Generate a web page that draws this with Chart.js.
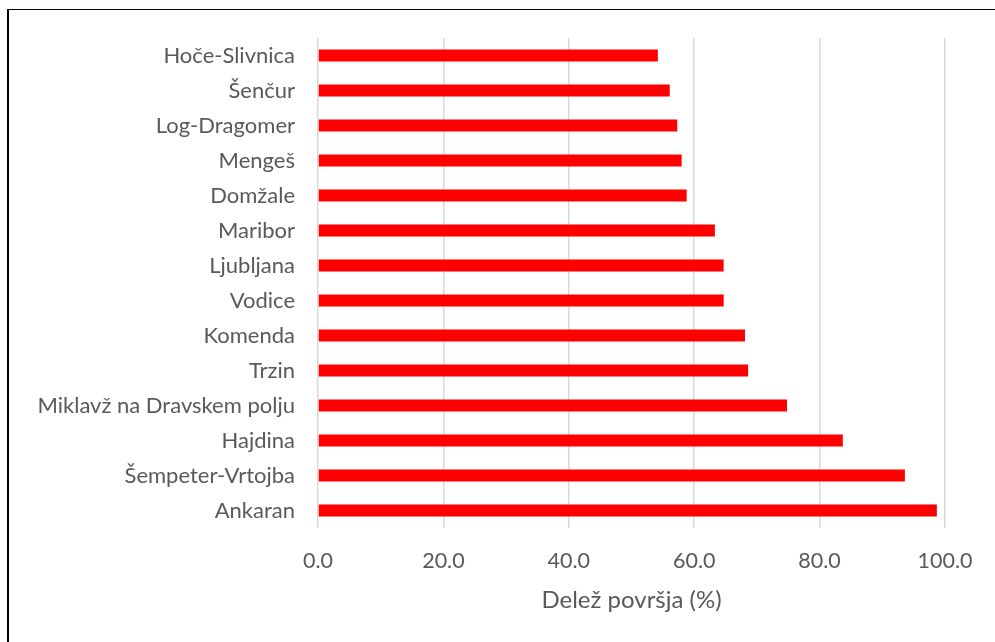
<!DOCTYPE html>
<html>
<head>
<meta charset="utf-8">
<script src="https://cdn.jsdelivr.net/npm/chart.js@4.4.1/dist/chart.umd.min.js"></script>
<style>
  html, body { margin: 0; padding: 0; background: #fff; }
  #wrap { position: relative; width: 995px; height: 642px; overflow: hidden; }
  #frame { position: absolute; left: 7px; top: 9px; width: 1200px; height: 900px;
           border-left: 2px solid #000; border-top: 1px solid #000; box-sizing: border-box; }
  canvas { position: absolute; left: 0; top: 0; }
</style>
</head>
<body>
<div id="wrap">
  <canvas id="c" width="995" height="642"></canvas>
  <div id="frame"></div>
</div>
<script>
const categories = [
  "Hoče-Slivnica", "Šenčur", "Log-Dragomer", "Mengeš", "Domžale", "Maribor",
  "Ljubljana", "Vodice", "Komenda", "Trzin", "Miklavž na Dravskem polju",
  "Hajdina", "Šempeter-Vrtojba", "Ankaran"
];
const shareValues = [54.2, 56.1, 57.3, 58.0, 58.8, 63.3, 64.7, 64.7, 68.1, 68.6, 74.8, 83.7, 93.6, 98.7];
const xAxisTitle = "Delež površja (%)";
const xMin = 0, xMax = 100, xStep = 20;

const FONT = "Lato, 'Open Sans', sans-serif";
const TEXT = "#595959";

new Chart(document.getElementById("c"), {
  type: "bar",
  data: {
    labels: categories,
    datasets: [{
      data: shareValues,
      backgroundColor: "#ff0000",
      borderWidth: 0,
      barPercentage: 0.343,
      categoryPercentage: 1.0
    }]
  },
  options: {
    indexAxis: "y",
    responsive: false,
    animation: false,
    events: [],
    layout: { padding: { top: 38, right: 50, left: 0, bottom: 0 } },
    plugins: { legend: { display: false }, tooltip: { enabled: false } },
    scales: {
      x: {
        min: xMin, max: xMax,
        ticks: {
          stepSize: xStep,
          padding: 20,
          color: TEXT,
          font: { family: FONT, size: 21.5 },
          callback: v => Number(v).toFixed(1)
        },
        grid: { color: "#d9d9d9", lineWidth: 1.5, drawTicks: false },
        border: { display: false },
        title: {
          display: true, text: xAxisTitle, color: TEXT,
          font: { family: FONT, size: 24 },
          padding: { top: 0, bottom: 27 }
        },
        afterFit: s => { s.height = 114; }
      },
      y: {
        ticks: {
          padding: 23,
          color: TEXT,
          font: { family: FONT, size: 22 },
          autoSkip: false
        },
        grid: { display: false, drawTicks: false },
        border: { display: false },
        afterFit: s => { s.width = 318; }
      }
    }
  }
});
</script>
</body>
</html>
